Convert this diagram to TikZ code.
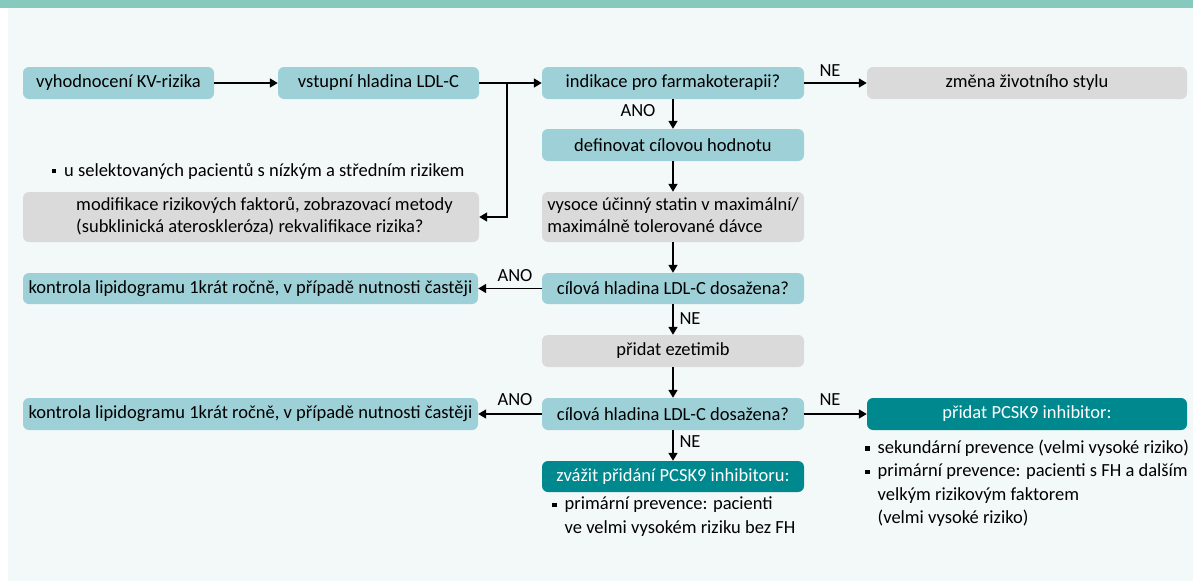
\documentclass[tikz,border=0pt]{standalone}
\usepackage{fontspec}
\setmainfont{Carlito}
\usetikzlibrary{arrows.meta}
\definecolor{bgc}{HTML}{F3F8F8}
\definecolor{topbar}{HTML}{86C9BD}
\definecolor{lteal}{HTML}{9ED1D7}
\definecolor{lgray}{HTML}{DADADA}
\definecolor{dteal}{HTML}{00888F}
\newcommand{\sqb}{\raisebox{0.3ex}{\rule{4.5pt}{4.5pt}}}
\begin{document}
\begin{tikzpicture}[x=1pt,y=-1pt,
  box/.style={rounded corners=6pt, inner sep=0pt, minimum height=32pt, font=\fontsize{18.5}{22}\selectfont, text=black},
  lbox/.style={box, fill=lteal},
  gbox/.style={box, fill=lgray},
  dbox/.style={box, fill=dteal, text=white},
  arr/.style={line width=1.6pt, -{Triangle[length=8pt,width=9pt]}},
  lab/.style={font=\fontsize{18.5}{20}\selectfont, inner sep=0pt},
  blist/.style={font=\fontsize{18.5}{23.5}\selectfont, inner sep=0pt, anchor=north west},
]
\useasboundingbox (0,0) rectangle (1193,581);
\fill[bgc] (8,0) rectangle (1193,581);
\fill[topbar] (0,0) rectangle (1193,8);

% row 1
\node[lbox, minimum width=191pt] (b1) at (118.5,83) {vyhodnocení KV-rizika};
\node[lbox, minimum width=201pt] (b2) at (378.5,83) {vstupní hladina LDL-C};
\node[lbox, minimum width=262pt] (b3) at (673,83) {indikace pro farmakoterapii?};
\node[gbox, minimum width=320pt] (b4) at (1027,83) {změna životního stylu};

% column
\node[lbox, minimum width=262pt] (b5) at (673,145) {definovat cílovou hodnotu};
\node[gbox, minimum width=262pt, minimum height=50pt] (b6) at (673,217) {\begin{tabular}{@{}l@{}}vysoce účinný statin v maximální/\\maximálně tolerované dávce\end{tabular}};
\node[lbox, minimum width=262pt, minimum height=31pt] (b8) at (673,288.5) {cílová hladina LDL-C dosažena?};
\node[gbox, minimum width=262pt] (b9) at (673,351) {přidat ezetimib};
\node[lbox, minimum width=262pt] (b10) at (673,414) {cílová hladina LDL-C dosažena?};
\node[dbox, minimum width=262pt, minimum height=31pt] (z) at (673,476.5) {zvážit přidání PCSK9 inhibitoru:};

% left
\node[lab, anchor=west] (n1) at (51.5,171) {\sqb\hspace{8pt}u selektovaných pacientů s nízkým a středním rizikem};
\node[gbox, minimum width=456pt, minimum height=50pt] (b7) at (251,217) {\begin{tabular}{@{\hspace{27pt}}l@{}}modifikace rizikových faktorů, zobrazovací metody\\(subklinická ateroskleróza) rekvalifikace rizika?\end{tabular}};
\node[lbox, minimum width=455pt, minimum height=31pt] (k1) at (250.5,288.5) {kontrola lipidogramu 1krát ročně, v případě nutnosti častěji};
\node[lbox, minimum width=455pt] (k2) at (250.5,414) {kontrola lipidogramu 1krát ročně, v případě nutnosti častěji};

% right
\node[dbox, minimum width=320pt] (p1) at (1027,414) {přidat PCSK9 inhibitor:};
\node[blist] (l1) at (865,436.5) {\begin{tabular}{@{}l@{\hspace{8pt}}l@{}}
\sqb & sekundární prevence (velmi vysoké riziko)\\
\sqb & primární prevence: pacienti s FH a dalším\\
 & velkým rizikovým faktorem\\
 & (velmi vysoké riziko)
\end{tabular}};
\node[blist] (l2) at (552,493) {\begin{tabular}{@{}l@{\hspace{8pt}}l@{}}
\sqb & primární prevence: pacienti\\
 & ve velmi vysokém riziku bez FH
\end{tabular}};

% connectors
\coordinate (j) at (507,83);
\draw[arr] (b1) -- (b2);
\draw[arr] (b2) -- (b3);
\draw[arr] (j) |- (b7.east);
\draw[arr] (b3) -- (b4);
\draw[arr] (b3) -- (b5);
\draw[arr] (b5) -- (b6);
\draw[arr] (b6) -- (b8);
\draw[arr] (b8) -- (k1);
\draw[arr] (b8) -- (b9);
\draw[arr] (b9) -- (b10);
\draw[arr] (b10) -- (k2);
\draw[arr] (b10) -- (p1);
\draw[arr] (b10) -- (z);

% labels
\node[lab] (ne1) at (830,71) {NE};
\node[lab] (ano1) at (638,111) {ANO};
\node[lab] (ano2) at (515,276) {ANO};
\node[lab] (ne2) at (690,319) {NE};
\node[lab] (ano3) at (515,400) {ANO};
\node[lab] (ne3) at (830,400) {NE};
\node[lab] (ne4) at (690,442) {NE};
\end{tikzpicture}
\end{document}
